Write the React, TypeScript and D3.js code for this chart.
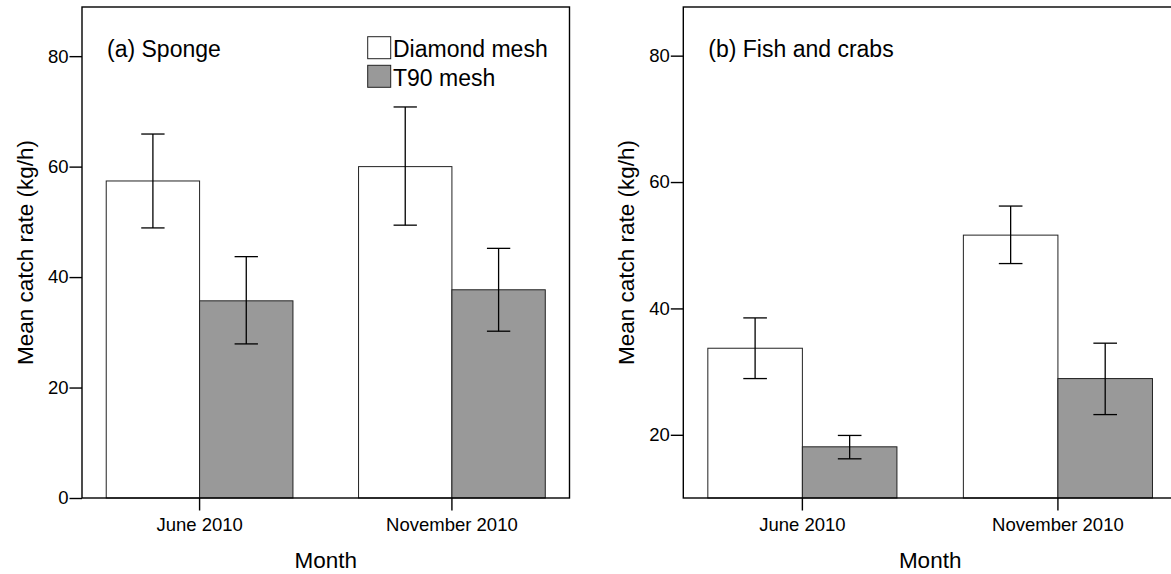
import React, { useEffect, useRef } from "react";
import * as d3 from "d3";

interface BarValue {
  mean: number;
  low: number;
  high: number;
}

interface Panel {
  title: string;
  series: BarValue[][];
  domain: [number, number];
  ticks: number[];
  left: number;
  right: number;
  legend: boolean;
}

const months = ["June 2010", "November 2010"];
const meshNames = ["Diamond mesh", "T90 mesh"];
const meshColors = ["#ffffff", "#999999"];

// (a) Sponge
const spongeDiamond: BarValue[] = [
  { mean: 57.4, low: 48.9, high: 65.9 },
  { mean: 60.0, low: 49.4, high: 70.8 },
];
const spongeT90: BarValue[] = [
  { mean: 35.7, low: 27.9, high: 43.7 },
  { mean: 37.7, low: 30.2, high: 45.2 },
];

// (b) Fish and crabs
const fishDiamond: BarValue[] = [
  { mean: 33.7, low: 28.9, high: 38.5 },
  { mean: 51.6, low: 47.1, high: 56.2 },
];
const fishT90: BarValue[] = [
  { mean: 18.1, low: 16.2, high: 19.9 },
  { mean: 28.9, low: 23.2, high: 34.5 },
];

const spongeTicks = [0, 20, 40, 60, 80];
const fishTicks = [20, 40, 60, 80];

const FONT = "'Liberation Sans', Arial, Helvetica, sans-serif";

const panels: Panel[] = [
  {
    title: "(a) Sponge",
    series: [spongeDiamond, spongeT90],
    domain: [0, 88.9],
    ticks: spongeTicks,
    left: 82,
    right: 569.5,
    legend: true,
  },
  {
    title: "(b) Fish and crabs",
    series: [fishDiamond, fishT90],
    domain: [10, 87.7],
    ticks: fishTicks,
    left: 683.3,
    right: 1177,
    legend: false,
  },
];

function drawPanel(svg: d3.Selection<SVGSVGElement, unknown, null, undefined>, p: Panel) {
  const top = 7;
  const bottom = 498;

  const x = d3
    .scaleBand()
    .domain(months)
    .range([p.left, p.right])
    .paddingInner(0.26)
    .paddingOuter(0.096);
  const sub = d3.scaleBand().domain(meshNames).range([0, x.bandwidth()]);
  const y = d3.scaleLinear().domain(p.domain).range([bottom, top]);

  const g = svg.append("g");

  // bars
  p.series.forEach((values, i) => {
    values.forEach((d, j) => {
      g.append("rect")
        .attr("x", x(months[j])! + sub(meshNames[i])!)
        .attr("y", y(d.mean))
        .attr("width", sub.bandwidth())
        .attr("height", bottom - y(d.mean))
        .style("fill", meshColors[i])
        .style("stroke", "#222")
        .style("stroke-width", 1);
    });
  });

  // error bars
  const cap = sub.bandwidth() * 0.125;
  p.series.forEach((values, i) => {
    values.forEach((d, j) => {
      const cx = x(months[j])! + sub(meshNames[i])! + sub.bandwidth() / 2;
      g.append("line")
        .attr("x1", cx).attr("x2", cx)
        .attr("y1", y(d.low)).attr("y2", y(d.high))
        .style("stroke", "#000").style("stroke-width", 1.3);
      [d.low, d.high].forEach((v) => {
        g.append("line")
          .attr("x1", cx - cap).attr("x2", cx + cap)
          .attr("y1", y(v)).attr("y2", y(v))
          .style("stroke", "#000").style("stroke-width", 1.3);
      });
    });
  });

  // frame
  g.append("rect")
    .attr("x", p.left)
    .attr("y", top)
    .attr("width", p.right - p.left)
    .attr("height", bottom - top)
    .style("fill", "none")
    .style("stroke", "#000")
    .style("stroke-width", 1.4);

  // y axis
  const yAxis = d3.axisLeft(y).tickValues(p.ticks).tickSize(12.5).tickPadding(1);
  const ya = g.append("g").attr("transform", `translate(${p.left},0)`).call(yAxis);
  // x axis
  const xAxis = d3.axisBottom(x).tickSize(12.5).tickPadding(7);
  const xa = g.append("g").attr("transform", `translate(0,${bottom})`).call(xAxis);

  [ya, xa].forEach((a) => {
    a.select(".domain").remove();
    a.selectAll(".tick line").style("stroke", "#000").style("stroke-width", 1.4);
    a.selectAll(".tick text")
      .style("font-family", FONT)
      .style("font-size", "18.5px")
      .style("fill", "#000");
  });

  // axis titles
  g.append("text")
    .attr("transform", `translate(${p.left - 49.5},${(top + bottom) / 2}) rotate(-90)`)
    .attr("text-anchor", "middle")
    .style("font-family", FONT)
    .style("font-size", "22.5px")
    .text("Mean catch rate (kg/h)");

  g.append("text")
    .attr("x", (p.left + p.right) / 2)
    .attr("y", 568)
    .attr("text-anchor", "middle")
    .style("font-family", FONT)
    .style("font-size", "22.5px")
    .text("Month");

  // panel title
  g.append("text")
    .attr("x", p.left + 25)
    .attr("y", 57)
    .style("font-family", FONT)
    .style("font-size", "23px")
    .text(p.title);

  // legend
  if (p.legend) {
    meshNames.forEach((name, i) => {
      const ly = 36.7 + i * 28.6;
      g.append("rect")
        .attr("x", p.right - 201.8)
        .attr("y", ly)
        .attr("width", 23)
        .attr("height", 22)
        .style("fill", meshColors[i])
        .style("stroke", "#222")
        .style("stroke-width", 1);
      g.append("text")
        .attr("x", p.right - 176.5)
        .attr("y", ly + 20.3)
        .style("font-family", FONT)
        .style("font-size", "23px")
        .text(name);
    });
  }
}

export default function App() {
  const svgRef = useRef<SVGSVGElement>(null);

  useEffect(() => {
    if (!svgRef.current) return;
    const svg = d3.select(svgRef.current);
    svg.selectAll("*").remove();
    panels.forEach((p) => drawPanel(svg, p));
  }, []);

  return (
    <svg
      ref={svgRef}
      width={1171}
      height={574}
      style={{ position: "absolute", left: 0, top: 0, background: "#fff" }}
    />
  );
}
